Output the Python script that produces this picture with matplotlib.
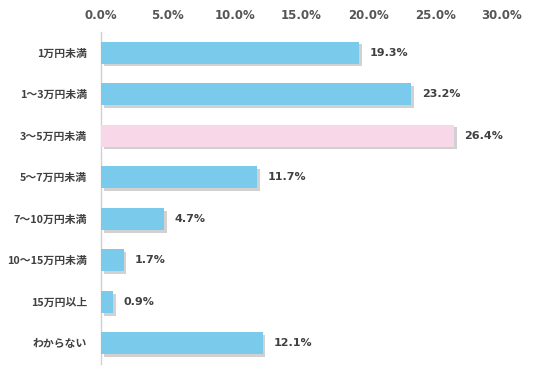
import matplotlib
matplotlib.use("Agg")
import matplotlib.pyplot as plt
import matplotlib.patheffects as pe
from matplotlib.ticker import FuncFormatter

plt.rcParams['font.family'] = ['Noto Sans CJK JP', 'DejaVu Sans']

categories = ["1万円未満", "1～3万円未満", "3～5万円未満", "5～7万円未満",
              "7～10万円未満", "10～15万円未満", "15万円以上", "わからない"]
values = [19.3, 23.2, 26.4, 11.7, 4.7, 1.7, 0.9, 12.1]
highlight = "3～5万円未満"
xticks = [0, 5, 10, 15, 20, 25, 30]

blue = "#7ACBEB"
pink = "#F8D8E8"
text_color = "#404040"

fig = plt.figure(figsize=(5.36, 3.80), dpi=100)
ax = fig.add_axes([0.1884, 0.042, 0.748, 0.874])

colors = [pink if c == highlight else blue for c in categories]
ypos = list(range(len(categories)))
bars = ax.barh(ypos, values, height=0.53, color=colors, zorder=3)
for b in bars:
    b.set_path_effects([pe.SimplePatchShadow(offset=(2, -2), shadow_rgbFace="#9a9a9a", alpha=0.45),
                        pe.Normal()])

for y, v in zip(ypos, values):
    ax.text(v + 0.8, y, f"{v:.1f}%", va="center", ha="left", fontsize=8,
            fontweight="bold", color=text_color, family=['DejaVu Sans'])

ax.set_ylim(len(categories) - 0.5, -0.5)
ax.set_xlim(0, 30)
ax.set_yticks(ypos)
ax.set_yticklabels(categories, fontsize=7.8, fontweight="bold", color=text_color)
ax.set_xticks(xticks)
ax.xaxis.set_major_formatter(FuncFormatter(lambda x, p: f"{x:.1f}%"))
ax.xaxis.tick_top()
for lab in ax.get_xticklabels():
    lab.set_fontsize(8.5)
    lab.set_fontweight("bold")
    lab.set_color("#555555")
    lab.set_family(['DejaVu Sans'])
ax.tick_params(axis="both", length=0)
ax.tick_params(axis="x", pad=7)
ax.tick_params(axis="y", pad=10)

for s in ["top", "right", "bottom"]:
    ax.spines[s].set_visible(False)
ax.spines["left"].set_color("#d0d0d0")
ax.spines["left"].set_linewidth(1.0)

fig.savefig("out.png", dpi=100)
